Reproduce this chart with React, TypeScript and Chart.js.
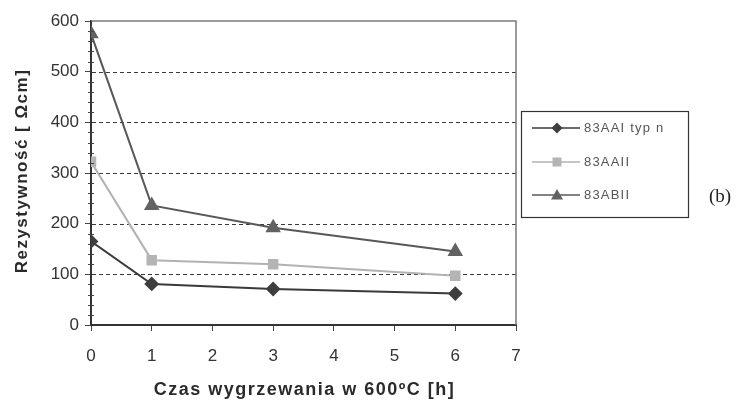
import React, { useEffect, useRef } from "react";
import { Chart, registerables } from "chart.js";

Chart.register(...registerables);

// Annealing time [h] and resistivity of each sample
const hours = [0, 1, 3, 6];
const sampleAAI = [165, 81, 71, 62];
const sampleAAII = [322, 128, 120, 97];
const sampleABII = [575, 236, 192, 145];
const seriesLabels = ["83AAI typ n", "83AAII", "83ABII"];
const yTicks = [0, 100, 200, 300, 400, 500, 600];
const xTicks = [0, 1, 2, 3, 4, 5, 6, 7];
const minorStep = 20;
const xTitle = "Czas wygrzewania w 600ºC [h]";
const yTitle = "Rezystywność [ Ωcm]";
const panelTag = "(b)";

const FONT = "'Liberation Sans', Arial, sans-serif";

const toPoints = (ys: number[]) => hours.map((h, i) => ({ x: h, y: ys[i] }));

// dashed horizontal grid lines, drawn under the series
const dashedGrid = {
  id: "dashedGrid",
  beforeDatasetsDraw(chart: any) {
    const { ctx, chartArea } = chart;
    const yScale = chart.scales.y;
    ctx.save();
    ctx.strokeStyle = "#3a3a3a";
    ctx.lineWidth = 1;
    ctx.setLineDash([4, 3]);
    yTicks.slice(1, -1).forEach((v) => {
      const py = Math.round(yScale.getPixelForValue(v)) + 0.5;
      ctx.beginPath();
      ctx.moveTo(chartArea.left + 1, py);
      ctx.lineTo(chartArea.right, py);
      ctx.stroke();
    });
    ctx.restore();
  },
};

const frameAndLegend = {
  id: "frameAndLegend",
  afterDraw(chart: any) {
    const { ctx, chartArea } = chart;
    const yScale = chart.scales.y;
    const { left, right, top, bottom } = chartArea;
    ctx.save();
    // top and right frame of the plot box
    ctx.strokeStyle = "#7a7a7a";
    ctx.lineWidth = 1.5;
    ctx.beginPath();
    ctx.moveTo(left, top);
    ctx.lineTo(right, top);
    ctx.lineTo(right, bottom);
    ctx.stroke();

    // minor ticks on the value axis
    ctx.strokeStyle = "#444";
    ctx.lineWidth = 1;
    const yMin = yTicks[0];
    const yMax = yTicks[yTicks.length - 1];
    for (let v = yMin + minorStep; v < yMax; v += minorStep) {
      if (v % 100 === 0) continue;
      const py = Math.round(yScale.getPixelForValue(v)) + 0.5;
      ctx.beginPath();
      ctx.moveTo(left - 3, py);
      ctx.lineTo(left + 3, py);
      ctx.stroke();
    }

    // axis titles (spaced lettering)
    ctx.fillStyle = "#2a2a2a";
    ctx.textAlign = "center";
    ctx.textBaseline = "middle";
    ctx.font = `bold 18px ${FONT}`;
    (ctx as any).letterSpacing = "1.5px";
    ctx.fillText(xTitle, (left + right) / 2 + 1, 390);
    ctx.save();
    ctx.translate(22, (top + bottom) / 2 - 2);
    ctx.rotate(-Math.PI / 2);
    ctx.font = `bold 17px ${FONT}`;
    (ctx as any).letterSpacing = "1.5px";
    ctx.fillText(yTitle, 0, 0);
    ctx.restore();
    (ctx as any).letterSpacing = "0px";

    // legend box
    const bx = 521, by = 111, bw = 167, bh = 106;
    ctx.strokeStyle = "#333";
    ctx.lineWidth = 1.2;
    ctx.strokeRect(bx + 0.5, by + 0.5, bw, bh);
    const rows = [128, 162, 195];
    chart.data.datasets.forEach((ds: any, i: number) => {
      const ry = rows[i];
      ctx.strokeStyle = ds.borderColor;
      ctx.lineWidth = 1.5;
      ctx.beginPath();
      ctx.moveTo(532, ry);
      ctx.lineTo(580, ry);
      ctx.stroke();
      ctx.fillStyle = ds.pointBackgroundColor;
      const mx = 557;
      const r = 5.5;
      ctx.beginPath();
      if (ds.pointStyle === "rectRot") {
        ctx.moveTo(mx, ry - r);
        ctx.lineTo(mx + r, ry);
        ctx.lineTo(mx, ry + r);
        ctx.lineTo(mx - r, ry);
        ctx.closePath();
      } else if (ds.pointStyle === "rect") {
        ctx.rect(mx - 4.5, ry - 4.5, 9, 9);
      } else {
        ctx.moveTo(mx, ry - 6);
        ctx.lineTo(mx + 6, ry + 4.5);
        ctx.lineTo(mx - 6, ry + 4.5);
        ctx.closePath();
      }
      ctx.fill();
      ctx.fillStyle = "#555";
      ctx.font = `13px ${FONT}`;
      (ctx as any).letterSpacing = "1.2px";
      ctx.textBaseline = "middle";
      ctx.textAlign = "left";
      ctx.fillText(ds.label, 584, ry);
      (ctx as any).letterSpacing = "0px";
    });

    // panel tag
    ctx.fillStyle = "#222";
    ctx.font = "19px 'Liberation Serif', 'Times New Roman', serif";
    ctx.textBaseline = "middle";
    ctx.textAlign = "left";
    ctx.fillText(panelTag, 709, 197);
    ctx.restore();
  },
};

export default function App() {
  const canvasRef = useRef<HTMLCanvasElement | null>(null);

  useEffect(() => {
    if (!canvasRef.current) return;
    const chart = new Chart(canvasRef.current, {
      type: "line",
      data: {
        datasets: [
          {
            label: seriesLabels[0],
            data: toPoints(sampleAAI),
            borderColor: "#3a3a3a",
            borderWidth: 2,
            pointStyle: "rectRot",
            pointRadius: 6,
            pointBackgroundColor: "#3e3e3e",
            pointBorderColor: "#3e3e3e",
          },
          {
            label: seriesLabels[1],
            data: toPoints(sampleAAII),
            borderColor: "#b2b2b2",
            borderWidth: 2,
            pointStyle: "rect",
            pointRadius: 6,
            pointBackgroundColor: "#b4b4b4",
            pointBorderColor: "#b4b4b4",
          },
          {
            label: seriesLabels[2],
            data: toPoints(sampleABII),
            borderColor: "#585858",
            borderWidth: 2,
            pointStyle: "triangle",
            pointRadius: 7,
            pointBackgroundColor: "#626262",
            pointBorderColor: "#626262",
          },
        ] as any,
      },
      options: {
        animation: false,
        responsive: false,
        maintainAspectRatio: false,
        layout: { padding: { left: 0, right: 225, top: 21, bottom: 0 } },
        plugins: {
          legend: { display: false },
          tooltip: { enabled: false },
        },
        scales: {
          x: {
            type: "linear",
            min: xTicks[0],
            max: xTicks[xTicks.length - 1],
            afterBuildTicks: (s: any) => {
              s.ticks = xTicks.map((v) => ({ value: v }));
            },
            afterFit: (s: any) => {
              s.height = 77;
            },
            border: { display: true, color: "#333", width: 2 },
            grid: {
              drawOnChartArea: false,
              drawTicks: true,
              tickLength: 6,
              tickColor: "#444",
              tickWidth: 1,
            },
            ticks: {
              color: "#333",
              font: { family: FONT, size: 17 },
              padding: 15,
            },
            title: { display: false },
          },
          y: {
            type: "linear",
            min: yTicks[0],
            max: yTicks[yTicks.length - 1],
            afterBuildTicks: (s: any) => {
              s.ticks = yTicks.map((v) => ({ value: v }));
            },
            afterFit: (s: any) => {
              s.width = 91;
            },
            border: { display: true, color: "#333", width: 2 },
            grid: {
              drawOnChartArea: false,
              drawTicks: true,
              tickLength: 6,
              tickColor: "#444",
              lineWidth: 1,
            },
            ticks: {
              color: "#333",
              font: { family: FONT, size: 17 },
              padding: 6,
            },
            title: { display: false },
          },
        },
      } as any,
      plugins: [dashedGrid, frameAndLegend],
    });
    return () => chart.destroy();
  }, []);

  return (
    <div style={{ position: "fixed", left: 0, top: 0, width: 741, height: 402, background: "#fff" }}>
      <canvas ref={canvasRef} width={741} height={402} style={{ width: 741, height: 402 }} />
    </div>
  );
}
